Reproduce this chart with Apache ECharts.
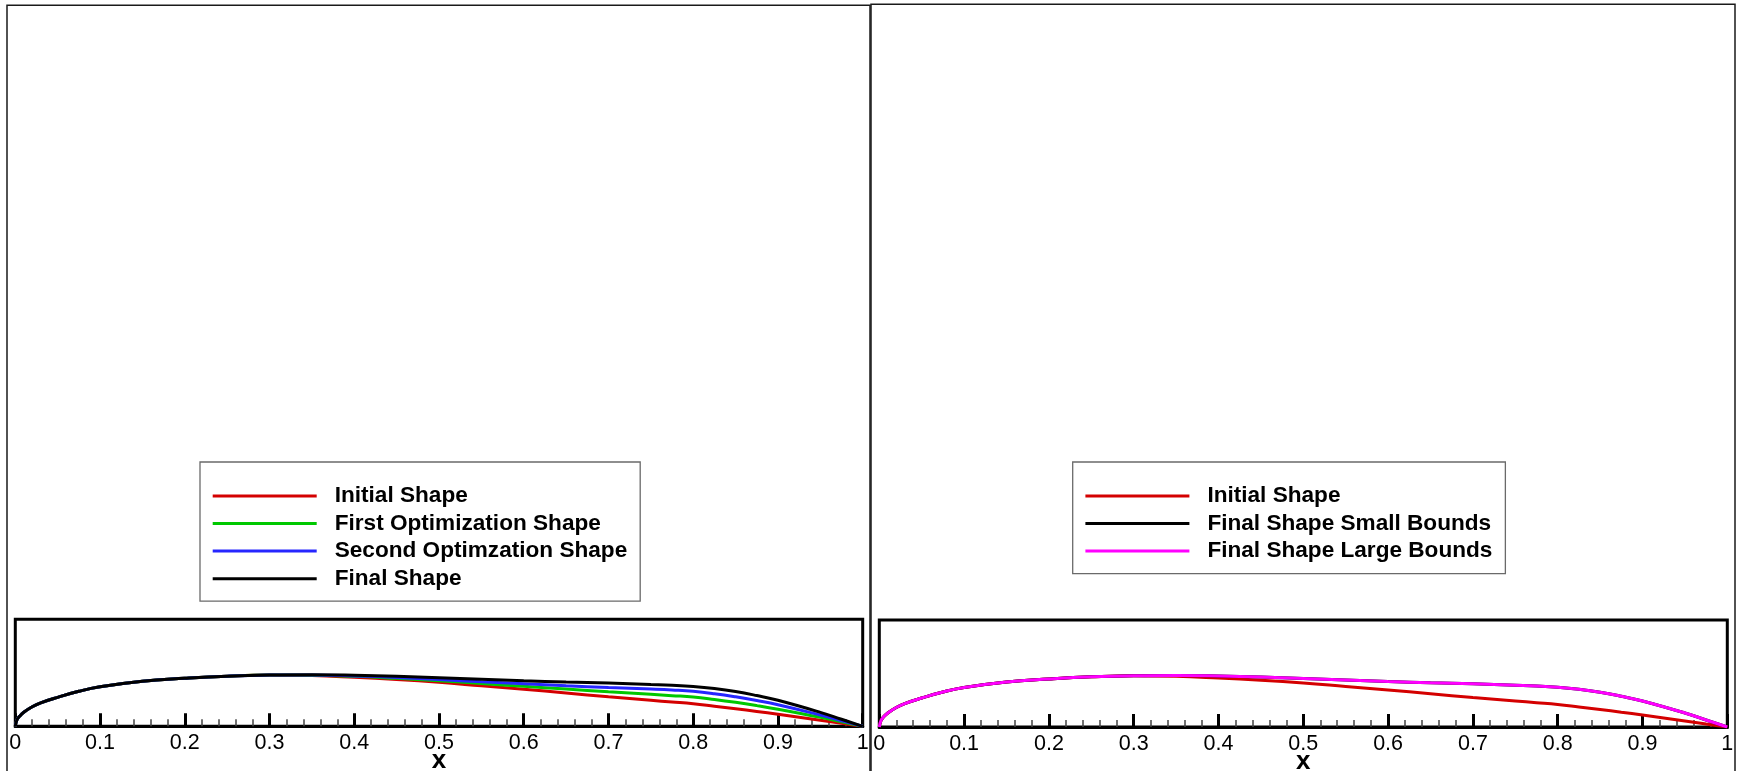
<!DOCTYPE html>
<html>
<head>
<meta charset="utf-8">
<script src="https://cdn.jsdelivr.net/npm/echarts@6/dist/echarts.min.js"></script>
<style>
  html, body { margin: 0; padding: 0; background: #fff; }
  #chart { width: 1743px; height: 771px; }
</style>
</head>
<body>
<div id="chart"></div>
<script>
// Chordwise stations (x/c) shared by every profile
const xStations = [0, 0.002, 0.005, 0.01, 0.02, 0.03, 0.05, 0.075, 0.1, 0.15, 0.2, 0.25, 0.3,
  0.35, 0.4, 0.45, 0.5, 0.55, 0.6, 0.65, 0.7, 0.75, 0.775, 0.8, 0.825, 0.85, 0.875, 0.9, 0.95, 0.975, 1];

// Upper-surface ordinates of each shape
const initialShape = [0, 0.0077, 0.0118, 0.0165, 0.0230, 0.0277, 0.0342, 0.0413, 0.0466, 0.0531, 0.0566, 0.0592, 0.0605,
  0.0599, 0.0578, 0.0552, 0.0519, 0.0478, 0.0437, 0.0393, 0.0348, 0.0307, 0.0287, 0.0266, 0.0237, 0.0207, 0.0175, 0.0142, 0.0071, 0.0035, 0];
const firstOptShape = [0, 0.0077, 0.0118, 0.0165, 0.0230, 0.0277, 0.0342, 0.0413, 0.0466, 0.0531, 0.0566, 0.0592, 0.0605,
  0.0604, 0.0590, 0.0566, 0.0539, 0.0505, 0.0472, 0.0440, 0.0407, 0.0378, 0.0362, 0.0346, 0.0317, 0.0283, 0.0244, 0.0201, 0.0106, 0.0053, 0];
const secondOptShape = [0, 0.0077, 0.0118, 0.0165, 0.0230, 0.0277, 0.0342, 0.0413, 0.0466, 0.0531, 0.0566, 0.0592, 0.0605,
  0.0607, 0.0595, 0.0576, 0.0552, 0.0525, 0.0502, 0.0479, 0.0458, 0.0439, 0.0428, 0.0413, 0.0385, 0.0348, 0.0304, 0.0254, 0.0133, 0.0066, 0];
const finalShape = [0, 0.0077, 0.0118, 0.0165, 0.0230, 0.0277, 0.0342, 0.0413, 0.0466, 0.0531, 0.0566, 0.0592, 0.0605,
  0.0608, 0.0602, 0.0590, 0.0573, 0.0555, 0.0537, 0.0523, 0.0510, 0.0493, 0.0484, 0.0470, 0.0446, 0.0411, 0.0363, 0.0307, 0.0165, 0.0083, 0];
const finalSmallBounds = [0, 0.0077, 0.0118, 0.0165, 0.0230, 0.0277, 0.0342, 0.0413, 0.0466, 0.0531, 0.0566, 0.0592, 0.0605,
  0.0608, 0.0602, 0.0590, 0.0573, 0.0555, 0.0537, 0.0523, 0.0510, 0.0493, 0.0484, 0.0470, 0.0446, 0.0411, 0.0363, 0.0307, 0.0165, 0.0083, 0];
const finalLargeBounds = [0, 0.0077, 0.0118, 0.0165, 0.0230, 0.0277, 0.0342, 0.0413, 0.0466, 0.0531, 0.0566, 0.0592, 0.0605,
  0.0608, 0.0602, 0.0590, 0.0573, 0.0555, 0.0537, 0.0523, 0.0510, 0.0493, 0.0484, 0.0470, 0.0446, 0.0411, 0.0363, 0.0307, 0.0165, 0.0083, 0];

const tickLabels = ['0', '0.1', '0.2', '0.3', '0.4', '0.5', '0.6', '0.7', '0.8', '0.9', '1'];

const leftNames = ['Initial Shape', 'First Optimization Shape', 'Second Optimzation Shape', 'Final Shape'];
const rightNames = ['Initial Shape', 'Final Shape Small Bounds', 'Final Shape Large Bounds'];

const FONT = '"Liberation Sans", Arial, Helvetica, sans-serif';
const pairs = ys => xStations.map((x, i) => [x, ys[i]]);

function xAxisFor(gridIndex) {
  return {
    type: 'value', gridIndex, min: 0, max: 1, interval: 0.1,
    name: 'x', nameLocation: 'middle', nameGap: 21.5, nameMoveOverlap: false,
    nameTextStyle: { fontFamily: FONT, fontWeight: 'bold', fontSize: 26, color: '#000' },
    axisLine: { show: true, lineStyle: { color: '#000', width: 3 } },
    axisTick: { show: true, inside: true, length: 13, lineStyle: { color: '#000', width: 3 } },
    minorTick: { show: true, splitNumber: 5, length: 7, lineStyle: { color: '#444', width: 1.5 } },
    splitLine: { show: false },
    axisLabel: {
      show: true, margin: 6, fontFamily: FONT, fontSize: 21.5, color: '#000',
      showMinLabel: true, showMaxLabel: true, hideOverlap: false,
      formatter: v => tickLabels[Math.round(v * 10)]
    }
  };
}
function yAxisFor(gridIndex) {
  return { type: 'value', gridIndex, min: 0, max: 0.1263, show: false, splitLine: { show: false } };
}
function line(name, data, color, xi) {
  return {
    type: 'line', name, data: pairs(data), xAxisIndex: xi, yAxisIndex: xi,
    showSymbol: false, symbol: 'none', smooth: 0.45, animation: false,
    lineStyle: { color, width: 3 }, itemStyle: { color }
  };
}
function legendFor(names, left) {
  return {
    data: names, orient: 'vertical', left, top: 462,
    icon: 'rect', itemWidth: 104, itemHeight: 3, itemGap: 4.6,
    padding: [22.4, 13, 11, 12.7],
    backgroundColor: '#fff', borderColor: '#6a6a6a', borderWidth: 1.3, borderRadius: 0,
    selectedMode: false,
    textStyle: { fontFamily: FONT, fontWeight: 'bold', fontSize: 22.6, lineHeight: 22.2, color: '#000', padding: [0, 0, 0, 13] }
  };
}

const chart = echarts.init(document.getElementById('chart'), null, { renderer: 'canvas' });
chart.setOption({
  animation: false,
  backgroundColor: '#fff',
  graphic: [
    { type: 'rect', shape: { x: 7, y: 5.3, width: 863, height: 820 }, style: { fill: 'none', stroke: '#1a1a1a', lineWidth: 1.5 }, z: -1 },
    { type: 'rect', shape: { x: 871, y: 4.3, width: 864, height: 820 }, style: { fill: 'none', stroke: '#1a1a1a', lineWidth: 1.5 }, z: -1 }
  ],
  grid: [
    { left: 15.3, top: 619.3, width: 847.4, height: 107, show: true, borderColor: '#000', borderWidth: 3,
      backgroundColor: 'transparent', containLabel: false, outerBoundsMode: 'none' },
    { left: 879.3, top: 620, width: 848, height: 107, show: true, borderColor: '#000', borderWidth: 3,
      backgroundColor: 'transparent', containLabel: false, outerBoundsMode: 'none' }
  ],
  xAxis: [xAxisFor(0), xAxisFor(1)],
  yAxis: [yAxisFor(0), yAxisFor(1)],
  legend: [legendFor(leftNames, 200), legendFor(rightNames, 1072.7)],
  series: [
    line('Initial Shape', initialShape, '#d40000', 0),
    line('First Optimization Shape', firstOptShape, '#00c800', 0),
    line('Second Optimzation Shape', secondOptShape, '#2626ff', 0),
    line('Final Shape', finalShape, '#000000', 0),
    line('Initial Shape', initialShape, '#d40000', 1),
    line('Final Shape Small Bounds', finalSmallBounds, '#000000', 1),
    line('Final Shape Large Bounds', finalLargeBounds, '#ff00ff', 1)
  ]
});
</script>
</body>
</html>
